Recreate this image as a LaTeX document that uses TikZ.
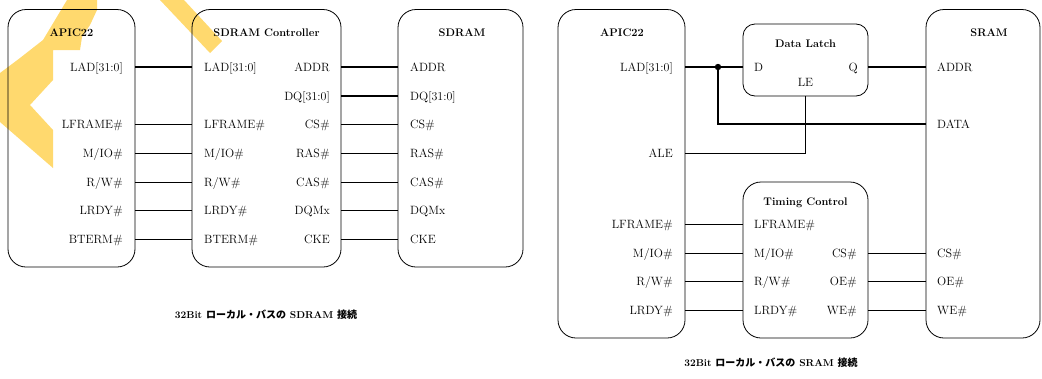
\documentclass[tikz,border=0pt]{standalone}
\usepackage{fontspec}
\newfontfamily\cjk{Noto Sans CJK JP}
\definecolor{wmyellow}{RGB}{255,217,110}
\begin{document}
\begin{tikzpicture}[x=1pt,y=-1pt,
  box/.style={draw,line width=0.8pt,rounded corners=18pt,inner sep=0pt,outer sep=0pt},
  ttl/.style={font=\fontsize{11}{13}\selectfont\bfseries,inner sep=0pt},
  pinr/.style={font=\fontsize{12}{14}\selectfont,inner sep=0pt,text height=8.2pt,text depth=0pt,anchor=east},
  pinl/.style={font=\fontsize{12}{14}\selectfont,inner sep=0pt,text height=8.2pt,text depth=0pt,anchor=west},
  sig/.style={line width=0.8pt},
  bus/.style={line width=2.6pt},
  captext/.style={font=\fontsize{10}{12}\selectfont\bfseries,inner sep=0pt}]
\useasboundingbox (0,0) rectangle (1042,378);
% watermark fragments
\fill[wmyellow] (67,0) -- (97,0) -- (97,10) -- (90,25) -- (82,37) -- (80,50) -- (53,50) -- (53,80) -- (30,105) -- (53,130) -- (53,168) -- (0,122) -- (0,73) -- (20,58) -- (43,40) -- (55,20) -- cycle;
\fill[wmyellow] (160,0) -- (184,0) -- (222,41) -- (210,53) -- cycle;

% ---------------- left diagram ----------------
\node[box,minimum width=127pt,minimum height=257.5pt] (A1) at (71.5,138.25) {};
\node[box,minimum width=149pt,minimum height=257.5pt] (C1) at (266.5,138.25) {};
\node[box,minimum width=125pt,minimum height=257.5pt] (S1) at (460.5,138.25) {};
\node[ttl] (tA1) at (71.5,33) {APIC22};
\node[ttl] (tC1) at (266.5,33) {SDRAM Controller};
\node[ttl] (tS1) at (462,33) {SDRAM};

\foreach \n/\t/\y in {lad/{LAD[31:0]}/67, lfr/{LFRAME\#}/124, mio/{M/IO\#}/153, rw/{R/W\#}/182, lrdy/{LRDY\#}/210, bt/{BTERM\#}/239}{
  \node[pinr] (a1\n) at (123,\y) {\t};
  \node[pinl] (c1\n) at (204,\y) {\t};
}
\foreach \n/\t/\y in {addr/{ADDR}/67, dq/{DQ[31:0]}/96, cs/{CS\#}/124, ras/{RAS\#}/153, cas/{CAS\#}/182, dqm/{DQMx}/210, cke/{CKE}/239}{
  \node[pinr] (c1o\n) at (330,\y) {\t};
  \node[pinl] (s1\n) at (410,\y) {\t};
}
\draw[bus] (a1lad.east -| A1.east) -- (c1lad.west -| C1.west);
\foreach \n in {lfr,mio,rw,lrdy,bt}{
  \draw[sig] (a1\n.east -| A1.east) -- (c1\n.west -| C1.west);
}
\draw[bus] (c1oaddr.east -| C1.east) -- (s1addr.west -| S1.west);
\draw[bus] (c1odq.east -| C1.east) -- (s1dq.west -| S1.west);
\foreach \n in {cs,ras,cas,dqm,cke}{
  \draw[sig] (c1o\n.east -| C1.east) -- (s1\n.west -| S1.west);
}
\node[captext] (cap1) at (266,315) {32Bit {\cjk\bfseries ローカル・バスの} SDRAM {\cjk\bfseries 接続}};

% ---------------- right diagram ----------------
\node[box,minimum width=127pt,minimum height=328.5pt] (A2) at (621.5,173.75) {};
\node[box,rounded corners=12pt,minimum width=125pt,minimum height=72pt] (DL) at (805.5,60) {};
\node[box,minimum width=125pt,minimum height=156pt] (TC) at (805.5,260) {};
\node[box,minimum width=114pt,minimum height=328.5pt] (SR) at (983,173.75) {};
\node[ttl] (tA2) at (622,33) {APIC22};
\node[ttl] (tDL) at (805.5,44) {Data Latch};
\node[ttl] (tTC) at (805.5,203) {Timing Control};
\node[ttl] (tSR) at (989,33) {SRAM};

\node[pinr] (a2lad) at (673,67) {LAD[31:0]};
\node[pinr] (a2ale) at (673,153) {ALE};
\node[pinl] (dld) at (754,67) {D};
\node[pinr] (dlq) at (858,67) {Q};
\node[pinl,anchor=center] (dlle) at (805.5,82) {LE};
\node[pinl] (sraddr) at (937,67) {ADDR};
\node[pinl] (srdata) at (937,124) {DATA};
\foreach \n/\t/\y in {lfr/{LFRAME\#}/224, mio/{M/IO\#}/253, rw/{R/W\#}/281, lrdy/{LRDY\#}/310}{
  \node[pinr] (a2\n) at (673,\y) {\t};
  \node[pinl] (tc\n) at (754,\y) {\t};
}
\foreach \n/\t/\y in {cs/{CS\#}/253, oe/{OE\#}/281, we/{WE\#}/310}{
  \node[pinr] (tco\n) at (857,\y) {\t};
  \node[pinl] (sr\n) at (937,\y) {\t};
}
\coordinate (jn) at (718,67);
\draw[bus] (a2lad.east -| A2.east) -- (dld.west -| DL.west);
\draw[bus] (jn) |- (srdata.west -| SR.west);
\fill (jn) circle (3.2pt);
\draw[bus] (dlq.east -| DL.east) -- (sraddr.west -| SR.west);
\draw[sig] (a2ale.east -| A2.east) -| (DL.south);
\foreach \n in {lfr,mio,rw,lrdy}{
  \draw[sig] (a2\n.east -| A2.east) -- (tc\n.west -| TC.west);
}
\foreach \n in {cs,oe,we}{
  \draw[sig] (tco\n.east -| TC.east) -- (sr\n.west -| SR.west);
}
\node[captext] (cap2) at (771,363) {32Bit {\cjk\bfseries ローカル・バスの} SRAM {\cjk\bfseries 接続}};
\end{tikzpicture}
\end{document}
